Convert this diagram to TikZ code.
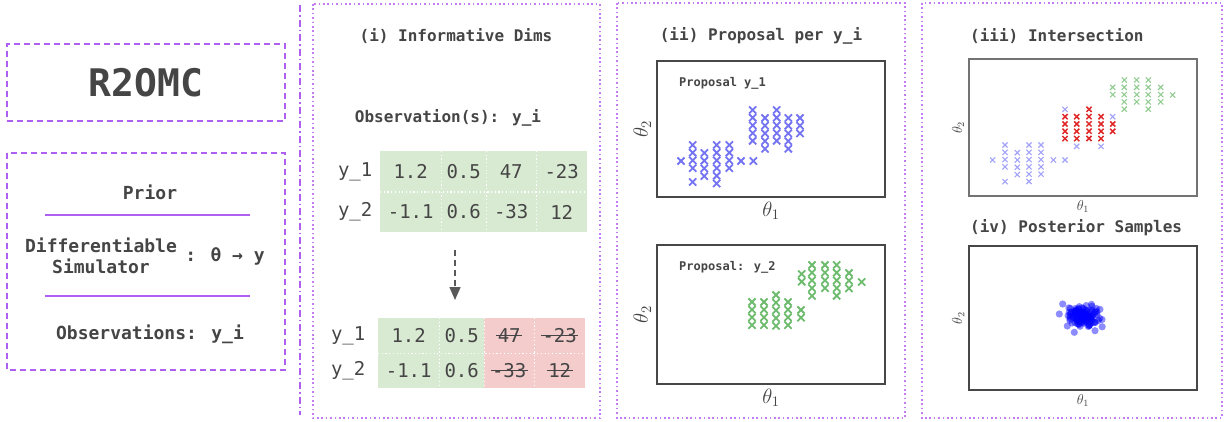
\RequirePackage{fix-cm}
\documentclass[tikz,border=0pt]{standalone}
\usepackage[no-math]{fontspec}
\setmainfont{DejaVu Sans Mono}
\usepackage{xcolor}
\usepackage{tikz}
\usetikzlibrary{arrows.meta}
\usetikzlibrary{calc}
\usetikzlibrary{matrix}
\usetikzlibrary{positioning}
\definecolor{frameviolet}{HTML}{B060F0}
\definecolor{panelviolet}{HTML}{C47CF4}
\definecolor{inkgray}{HTML}{454545}
\definecolor{cellgreen}{HTML}{D9EAD3}
\definecolor{cellred}{HTML}{F4CCCC}
\definecolor{propblue}{HTML}{7474F2}
\definecolor{propgreen}{HTML}{6DBB6D}
\definecolor{capblue}{HTML}{A2A2FA}
\definecolor{capred}{HTML}{E02828}
\definecolor{capgreen}{HTML}{92CC92}
\newcommand\pxfont[2]{\fontsize{#1}{#2}\selectfont}
\newcommand\struck[1]{\setbox0\hbox{#1}\rlap{\kern-1.5pt\rule[0.33em]{\dimexpr\wd0+3pt\relax}{1.3pt}}\box0}
\tikzset{xmark/.pic={\draw (-1,-1) -- (1,1) (-1,1) -- (1,-1);}}
\tikzstyle{dashbox}=[draw=frameviolet, line width=1.6pt, dash pattern=on 6pt off 4pt]
\tikzstyle{namebox}=[dashbox, inner sep=0pt, font=\bfseries\pxfont{38}{38}]
\tikzstyle{boxtext}=[inner sep=0pt, font=\bfseries\pxfont{18}{21}]
\tikzstyle{sepline}=[draw=frameviolet, line width=1.6pt]
\tikzstyle{divider}=[draw=frameviolet, line width=1.6pt, dash pattern=on 7pt off 3pt on 1.5pt off 3pt]
\tikzstyle{panelbox}=[draw=panelviolet, line width=1.6pt, dash pattern=on 1.6pt off 2.8pt]
\tikzstyle{paneltitle}=[inner sep=0pt, font=\bfseries\pxfont{16}{16}]
\tikzstyle{plotframe}=[draw=black!72, line width=1.4pt, inner sep=0pt]
\tikzstyle{axlab}=[inner sep=0pt, font=\pxfont{16}{16}]
\tikzstyle{smallaxlab}=[inner sep=0pt, font=\pxfont{12}{12}]
\tikzstyle{plotnote}=[inner sep=0pt, font=\bfseries\pxfont{12}{12}]
\tikzstyle{cellsep}=[draw=white, line width=1.2pt, dash pattern=on 1.2pt off 2.5pt]
\tikzstyle{flow}=[draw=black!65, line width=1.5pt, dash pattern=on 6pt off 4pt, -{Triangle[length=13pt,width=11pt]}]
\tikzstyle{propA}=[propblue, line width=1.8pt, scale=3.6]
\tikzstyle{propB}=[propgreen, line width=1.8pt, scale=3.6]
\tikzstyle{capA}=[capblue, line width=1.1pt, scale=2.6]
\tikzstyle{capB}=[capred, line width=1.5pt, scale=2.6]
\tikzstyle{capC}=[capgreen, line width=1.1pt, scale=2.6]
\tikzstyle{postdot}=[fill=blue, fill opacity=0.45]
\tikzstyle{obstable}=[matrix of nodes, inner sep=0pt, column sep=0pt, row sep=0pt,
  nodes={inner sep=0pt, anchor=center, font=\pxfont{19}{19}},
  column 1/.style={nodes={minimum width=50pt}},
  column 2/.style={nodes={fill=cellgreen, minimum width=61pt}},
  column 3/.style={nodes={fill=cellgreen, minimum width=45pt}},
  column 4/.style={nodes={fill=cellgreen, minimum width=50pt}},
  column 5/.style={nodes={fill=cellgreen, minimum width=51pt}}]

\begin{document}
\begin{tikzpicture}[x=1pt, y=-1pt, every node/.append style={text=inkgray}]
\useasboundingbox (0,0) rectangle (1228,421);

% method column
\node[namebox, minimum width=278pt, minimum height=77pt] (nameBox) at (146,82.5) {R2OMC};
\draw[dashbox] (7,153) rectangle (285,370);
\node[boxtext] (prior) at (150,192) {Prior};
\draw[sepline] (45,215) -- (250,215);
\node[boxtext, align=center] (simName) at (101,256) {Differentiable\\Simulator};
\node[boxtext, right=8pt of simName] (simMap) {: θ → y};
\draw[sepline] (45,296) -- (250,296);
\node[boxtext] (obsLeft) at (150,334) {Observations: y\_i};
\draw[divider] (300,5) -- (300,415);

% (i)
\draw[panelbox] (313,4) rectangle (600,418);
\node[paneltitle] (titleA) at (456,36) {(i) Informative Dims};
\node[paneltitle] (obsTitle) at (448,118) {Observation(s): y\_i};
\matrix[obstable, anchor=north west, nodes={minimum height=40.5pt}] (tA) at (330,151) {
  y\_1 & 1.2  & 0.5 & 47  & -23 \\
  y\_2 & -1.1 & 0.6 & -33 & 12  \\
};
\foreach \c in {2,3,4}
  \draw[cellsep] (tA-1-\c.north east) -- (tA-2-\c.south east);
\draw[cellsep] (tA-1-2.south west) -- (tA-1-5.south east);
\coordinate (flowTop) at (455,250);
\coordinate (flowEnd) at (455,300);
\draw[flow] (flowTop) -- (flowEnd);
\matrix[obstable, anchor=north west, nodes={minimum height=35pt},
  column 1/.style={nodes={minimum width=60pt}},
  column 4/.style={nodes={fill=cellred, minimum width=50pt}},
  column 5/.style={nodes={fill=cellred, minimum width=51pt}}] (tB) at (318,318) {
  y\_1 & 1.2  & 0.5 & \struck{47}  & \struck{-23} \\
  y\_2 & -1.1 & 0.6 & \struck{-33} & \struck{12}  \\
};
\foreach \c in {2,3,4}
  \draw[cellsep] (tB-1-\c.north east) -- (tB-2-\c.south east);
\draw[cellsep] (tB-1-2.south west) -- (tB-1-5.south east);

% (ii)
\draw[panelbox] (617,3) rectangle (905,418);
\node[paneltitle] (titleB) at (761,36) {(ii) Proposal per y\_i};
\node[plotframe, minimum width=228pt, minimum height=136pt] (plotA) at (771,129) {};
\node[axlab, rotate=90] (plotAy) at ([xshift=-14pt]plotA.west) {\scalebox{1.3}{$\theta_2$}};
\node[axlab] (plotAx) at ([yshift=-13pt]plotA.south) {\scalebox{1.3}{$\theta_1$}};
\node[plotnote, anchor=west] (noteA) at (679,83) {Proposal y\_1};
\foreach \cx/\cy/\cn in {681/161/1, 692.7/145/4, 692.7/182/1, 704.3/153/4, 716.7/145/6,
    729.3/145/4, 741/161/1, 753.3/161/1, 752.7/110/5, 765/118/5, 776.7/110/5, 788.3/118/5, 800/118/3}
  \foreach \k in {1,...,\cn}
    \pic[propA] at (\cx,{\cy+(\k-1)*7.7}) {xmark};
\node[plotframe, minimum width=228pt, minimum height=139pt] (plotB) at (771,314.5) {};
\node[axlab, rotate=90] (plotBy) at ([xshift=-14pt]plotB.west) {\scalebox{1.3}{$\theta_2$}};
\node[axlab] (plotBx) at ([yshift=-13pt]plotB.south) {\scalebox{1.3}{$\theta_1$}};
\node[plotnote, anchor=west] (noteB) at (679,267) {Proposal: y\_2};
\foreach \cx/\cy/\cn in {752/302/4, 764/302/4, 776/295/5, 788/302/4, 801/310/2,
    801.7/274/2, 812/265/5, 825/265/4, 836.7/265/5, 849/273/3, 861.7/282/1}
  \foreach \k in {1,...,\cn}
    \pic[propB] at (\cx,{\cy+(\k-1)*7.7}) {xmark};

% (iii) and (iv)
\draw[panelbox] (922,3) rectangle (1222,418);
\node[paneltitle, anchor=west] (titleC) at (970,36) {(iii) Intersection};
\node[plotframe, draw=black!55, line width=1.8pt, minimum width=228pt, minimum height=137pt] (plotC) at (1083,127.5) {};
\node[smallaxlab, rotate=90] (plotCy) at ([xshift=-10pt]plotC.west) {\scalebox{1.2}{$\theta_2$}};
\node[smallaxlab] (plotCx) at ([yshift=-10pt]plotC.south) {\scalebox{1.2}{$\theta_1$}};
\foreach \cx/\cy/\cn in {992.7/160/1, 1005/145/4, 1005/181.7/1, 1017.3/152.7/4, 1029/145/6,
    1041/145/5, 1053.3/160/1, 1065/160/1, 1065/109.3/1, 1076.7/146.3/1, 1101/146.3/1, 1112.7/116.7/1}
  \foreach \k in {1,...,\cn}
    \pic[capA] at (\cx,{\cy+(\k-1)*7.3}) {xmark};
\foreach \cx/\cy/\cn in {1065/116.7/4, 1076.7/116.7/4, 1089/109.3/5, 1101/116.7/4, 1112.7/124/2}
  \foreach \k in {1,...,\cn}
    \pic[capB] at (\cx,{\cy+(\k-1)*7.3}) {xmark};
\foreach \cx/\cy/\cn in {1112.7/87.3/2, 1124.3/80/5, 1136.7/80/4, 1148.3/80/5, 1160.7/87.3/3, 1172.7/95/1}
  \foreach \k in {1,...,\cn}
    \pic[capC] at (\cx,{\cy+(\k-1)*7.3}) {xmark};
\node[paneltitle, anchor=west] (titleD) at (970,228) {(iv) Posterior Samples};
\node[plotframe, minimum width=228pt, minimum height=144pt] (plotD) at (1083,318) {};
\node[smallaxlab, rotate=90] (plotDy) at ([xshift=-10pt]plotD.west) {\scalebox{1.2}{$\theta_2$}};
\node[smallaxlab] (plotDx) at ([yshift=-10pt]plotD.south) {\scalebox{1.2}{$\theta_1$}};
\pgfmathsetseed{42}
\foreach \i in {1,...,120} {
  \pgfmathsetmacro\px{1084+7.5*(rand+rand+rand)}
  \pgfmathsetmacro\py{316+5*(rand+rand+rand)}
  \fill[postdot] (\px,\py) circle[radius=3.6];
}
\foreach \px/\py in {1062.7/304, 1059.3/314, 1067.3/326, 1074.3/332.3, 1095/330.7}
  \fill[postdot] (\px,\py) circle[radius=3.6];
\end{tikzpicture}
\end{document}
